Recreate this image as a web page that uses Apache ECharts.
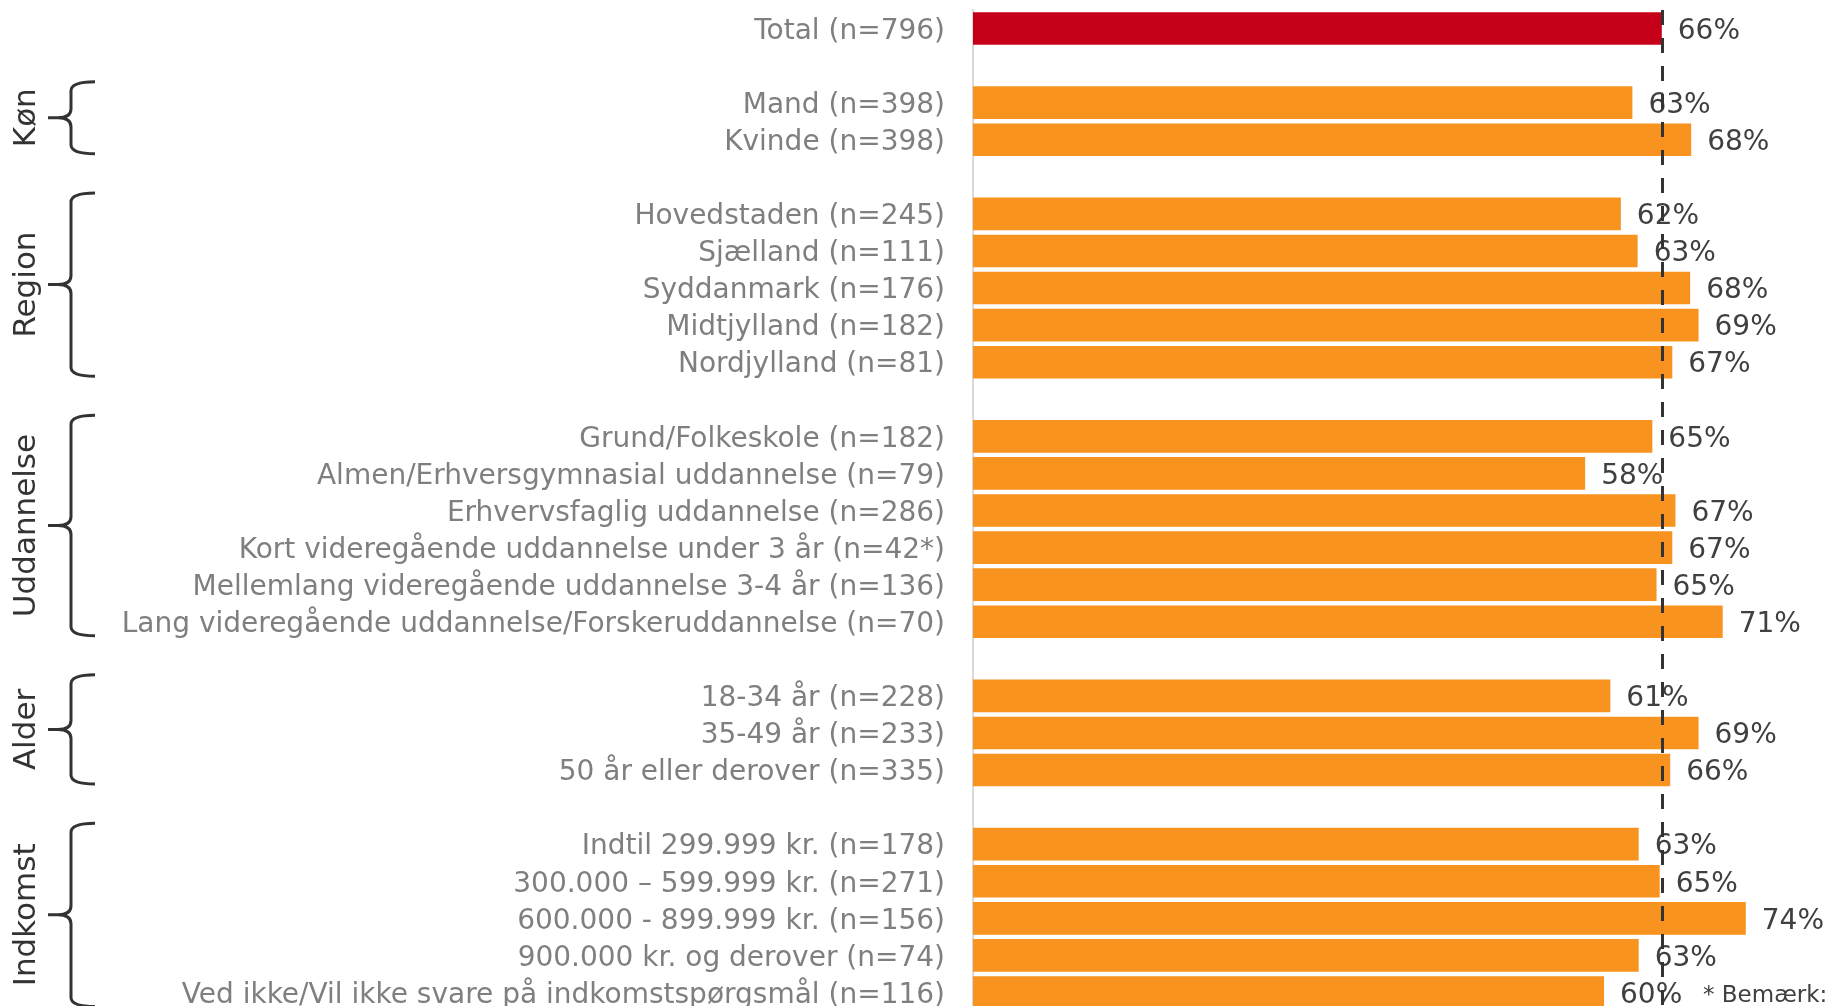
<!DOCTYPE html>
<html>
<head>
<meta charset="utf-8">
<script src="https://cdn.jsdelivr.net/npm/echarts@6/dist/echarts.min.js"></script>
<style>
html,body{margin:0;padding:0;background:#fff;}
#chart{width:1825px;height:1006px;}
</style>
</head>
<body>
<div id="chart"></div>
<script>
// ---- Data ----
const totalCategory = 'Total (n=796)';
const totalValue = 65.6;

const groupNames = ['Køn', 'Region', 'Uddannelse', 'Alder', 'Indkomst'];

const konCategories = ['Mand (n=398)', 'Kvinde (n=398)'];
const konValues = [62.8, 68.4];

const regionCategories = ['Hovedstaden (n=245)', 'Sjælland (n=111)', 'Syddanmark (n=176)', 'Midtjylland (n=182)', 'Nordjylland (n=81)'];
const regionValues = [61.7, 63.3, 68.3, 69.1, 66.6];

const uddCategories = ['Grund/Folkeskole (n=182)', 'Almen/Erhversgymnasial uddannelse (n=79)', 'Erhvervsfaglig uddannelse (n=286)', 'Kort videregående uddannelse under 3 år (n=42*)', 'Mellemlang videregående uddannelse 3-4 år (n=136)', 'Lang videregående uddannelse/Forskeruddannelse (n=70)'];
const uddValues = [64.7, 58.3, 66.9, 66.6, 65.1, 71.4];

const alderCategories = ['18-34 år (n=228)', '35-49 år (n=233)', '50 år eller derover (n=335)'];
const alderValues = [60.7, 69.1, 66.4];

const indkomstCategories = ['Indtil 299.999 kr. (n=178)', '300.000 – 599.999 kr. (n=271)', '600.000 - 899.999 kr. (n=156)', '900.000 kr. og derover (n=74)', 'Ved ikke/Vil ikke svare på indkomstspørgsmål (n=116)'];
const indkomstValues = [63.4, 65.4, 73.6, 63.4, 60.1];

const noteText = '* Bemærk:';

// ---- Build axis/series data ----
const groupCats = [konCategories, regionCategories, uddCategories, alderCategories, indkomstCategories];
const groupVals = [konValues, regionValues, uddValues, alderValues, indkomstValues];

const categories = [totalCategory];
const barData = [{ value: totalValue, itemStyle: { color: '#C70019' } }];
const braceData = [];
groupCats.forEach((cats, g) => {
  categories.push('__gap' + g);
  barData.push('-');
  const start = categories.length;
  cats.forEach((c, i) => {
    categories.push(c);
    barData.push({ value: groupVals[g][i], itemStyle: { color: '#F7931E' } });
  });
  braceData.push([0, start, categories.length - 1, g]);
});

const FONT = '"DejaVu Sans", Verdana, sans-serif';
const chart = echarts.init(document.getElementById('chart'));

chart.setOption({
  animation: false,
  backgroundColor: '#fff',
  grid: { left: 973, top: 10, width: 1050, height: 1001, containLabel: false, outerBoundsMode: 'none' },
  xAxis: {
    type: 'value', min: 0, max: 100, show: false
  },
  yAxis: {
    type: 'category',
    data: categories,
    inverse: true,
    axisLine: { show: true, lineStyle: { color: '#d9d9d9', width: 2 } },
    axisTick: { show: false },
    splitLine: { show: false },
    axisLabel: {
      color: '#7f7f7f',
      fontSize: 28,
      fontFamily: FONT,
      margin: 28,
      verticalAlign: 'top',
      lineHeight: 6,
      formatter: v => (v.indexOf('__gap') === 0 ? '' : v)
    }
  },
  series: [
    {
      type: 'bar',
      data: barData,
      barCategoryGap: '12%',
      z: 2,
      label: {
        show: true,
        position: 'right',
        distance: 16,
        offset: [0, 3],
        color: '#404040',
        fontSize: 28,
        fontFamily: FONT,
        formatter: p => Math.round(p.value) + '%'
      }
    },
    {
      type: 'scatter',
      data: [],
      z: 10,
      markLine: {
        silent: true,
        symbol: ['none', 'none'],
        label: { show: false },
        lineStyle: { color: '#333333', width: 3, type: [15, 13] },
        data: [{ xAxis: totalValue }]
      }
    },
    {
      type: 'custom',
      data: braceData,
      encode: { x: 0, y: 1 },
      clip: false,
      z: 5,
      renderItem: function (params, api) {
        const yTop = api.coord([0, api.value(1)])[1] - 21;
        const yBot = api.coord([0, api.value(2)])[1] + 14;
        const mid = (yTop + yBot) / 2;
        const xV = 71, xH = 95, xT = 48, r = 9;
        const d = `M${xH} ${yTop} Q${xV} ${yTop} ${xV} ${yTop + r} L${xV} ${mid - r} Q${xV} ${mid} ${xT + 10} ${mid} L${xT} ${mid} M${xT + 10} ${mid} Q${xV} ${mid} ${xV} ${mid + r} L${xV} ${yBot - r} Q${xV} ${yBot} ${xH} ${yBot}`;
        return {
          type: 'group',
          children: [
            { type: 'path', shape: { pathData: d }, style: { fill: 'none', stroke: '#333333', lineWidth: 3 } },
            {
              type: 'text', x: 27, y: mid, rotation: Math.PI / 2,
              style: { text: groupNames[api.value(3)], fill: '#333333', fontSize: 31, fontFamily: FONT, align: 'center', verticalAlign: 'middle' }
            }
          ]
        };
      }
    }
  ],
  graphic: [
    { type: 'text', left: 1703, top: 985, style: { text: noteText, fill: '#404040', fontSize: 23, fontFamily: FONT } }
  ]
});
</script>
</body>
</html>
